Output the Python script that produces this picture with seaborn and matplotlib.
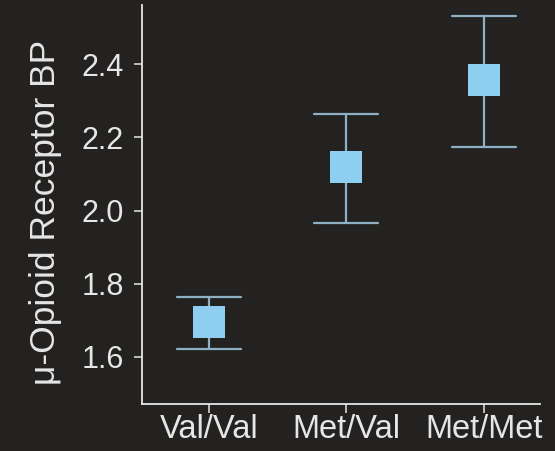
import numpy as np
import pandas as pd
import matplotlib
matplotlib.use("Agg")
import matplotlib.pyplot as plt
import seaborn as sns

# Mean binding potential per OPRM1 genotype with lower / upper error bounds
genotypes = ["Val/Val", "Met/Val", "Met/Met"]
bp_mean = [1.696, 2.118, 2.356]
bp_lower = [1.622, 1.966, 2.174]
bp_upper = [1.763, 2.263, 2.533]
y_ticks = [1.6, 1.8, 2.0, 2.2, 2.4]
y_tick_labels = ["1.6", "1.8", "2.0", "2.2", "2.4"]

bg = "#232221"
fg = "#e6e6e6"
square_color = "#8ecfef"
bar_color = "#8fb0c4"

sns.set_style("ticks", {"axes.facecolor": bg, "figure.facecolor": bg,
                        "axes.edgecolor": fg, "xtick.color": fg,
                        "ytick.color": fg, "text.color": fg,
                        "axes.labelcolor": fg})
plt.rcParams["font.family"] = ["Liberation Sans", "DejaVu Sans"]

# Each group holds its lower bound, mean and upper bound; the median then
# gives the mean and the min/max give the error bar ends.
df = pd.DataFrame({
    "genotype": np.repeat(genotypes, 3),
    "bp": np.column_stack([bp_lower, bp_mean, bp_upper]).ravel(),
})

fig = plt.figure(figsize=(5.55, 4.51), dpi=100, facecolor=bg)
ax = fig.add_axes([0.2551, 0.1042, 0.973 - 0.2551, 0.989 - 0.1042])

sns.pointplot(data=df, x="genotype", y="bp", order=genotypes,
              estimator="median",
              errorbar=lambda v: (v.min(), v.max()),
              color=square_color, marker="s", linestyle="none",
              markersize=23, markeredgewidth=0, capsize=0.466,
              err_kws={"color": bar_color, "linewidth": 1.6},
              ax=ax)

# keep the squares above the error bars
for line in ax.lines:
    if line.get_marker() == "s":
        line.set_zorder(5)

ax.set_xlim(-0.49, 2.41)
ax.set_ylim(1.471, 2.562)
ax.set_yticks(y_ticks)
ax.set_yticklabels(y_tick_labels)
ax.set_xlabel("")
ax.set_ylabel("\u03bc-Opioid Receptor BP", fontsize=25.5, color=fg)
ax.yaxis.set_label_coords(-0.2, 0.479)

for side in ("top", "right"):
    ax.spines[side].set_visible(False)
for side in ("left", "bottom"):
    ax.spines[side].set_color(fg)
    ax.spines[side].set_linewidth(1.3)

ax.tick_params(axis="y", labelsize=22, length=6, width=1.1, pad=7,
               colors=fg)
ax.tick_params(axis="x", labelsize=23.5, length=6.5, width=1.1, pad=1,
               colors=fg)

fig.savefig("out.png", dpi=100, facecolor=bg)
